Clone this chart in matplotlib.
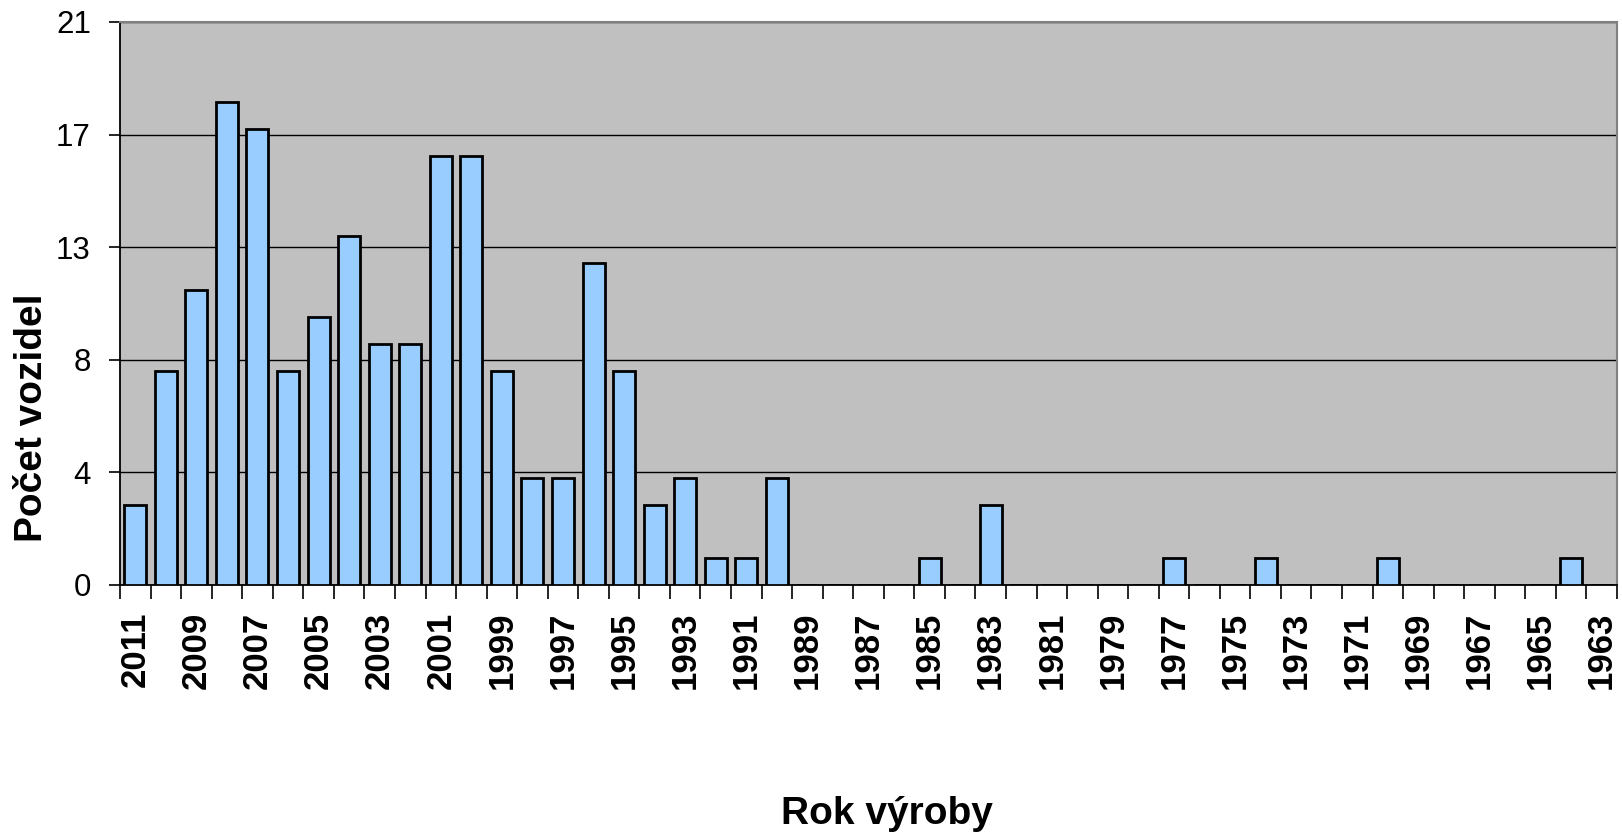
#!/usr/bin/env python3
"""Počet vozidel podle roku výroby - Excel-style column chart."""
import matplotlib
matplotlib.use("Agg")
import matplotlib.pyplot as plt
import numpy as np

plt.rcParams["font.family"] = ["Liberation Sans", "DejaVu Sans"]

# years 2011 -> 1963, one category per year
YEARS = list(range(2011, 1962, -1))
COUNTS = [3, 8, 11, 18, 17, 8, 10, 13, 9, 9,
          16, 16, 8, 4, 4, 12, 8, 3, 4, 1,
          1, 4, 0, 0, 0, 0, 1, 0, 3, 0,
          0, 0, 0, 0, 1, 0, 0, 1, 0, 0,
          0, 1, 0, 0, 0, 0, 0, 1, 0]
Y_MAX = 21
Y_STEP = 4.2

BG = "#C0C0C0"
BAR = "#99CCFF"

fig = plt.figure(figsize=(16.22, 8.35), dpi=100)
ax = fig.add_axes([120/1622, 1 - 585/835, 1497/1622, 563/835])
ax.set_facecolor(BG)

x = np.arange(len(YEARS))
ax.bar(x, COUNTS, width=0.72, color=BAR, edgecolor="black", linewidth=2.0, zorder=3)

ax.set_xlim(-0.5, len(YEARS) - 0.5)
ax.set_ylim(0, Y_MAX)

yt = np.arange(0, Y_MAX + 0.01, Y_STEP)
ax.set_yticks(yt)
ax.set_yticklabels([f"{v:.0f}" for v in yt], fontsize=22.5)
ax.yaxis.grid(True, color="black", linewidth=1.0, zorder=1)
ax.tick_params(axis="y", length=8, width=1.2, pad=13)

ax.set_xticks(x[::2])
ax.set_xticklabels([str(y) for y in YEARS[::2]], rotation=90, fontsize=25,
                   fontweight="bold", va="top", ha="center")
ax.set_xticks(np.arange(-0.5, len(YEARS)), minor=True)
ax.tick_params(axis="x", which="major", length=0, pad=19)
ax.tick_params(axis="x", which="minor", length=10, width=1.2)

for s in ("left", "bottom"):
    ax.spines[s].set_color("black")
    ax.spines[s].set_linewidth(1.3)
for s in ("top", "right"):
    ax.spines[s].set_color("#808080")
    ax.spines[s].set_linewidth(1.5)

fig.text(32/1622, 0.5, "Počet vozidel", rotation=90, ha="center", va="center",
         fontsize=28, fontweight="bold")
fig.text(887/1622, 1 - 814/835, "Rok výroby", ha="center", va="center",
         fontsize=28, fontweight="bold")

plt.savefig("out.png", dpi=100, facecolor="white")
